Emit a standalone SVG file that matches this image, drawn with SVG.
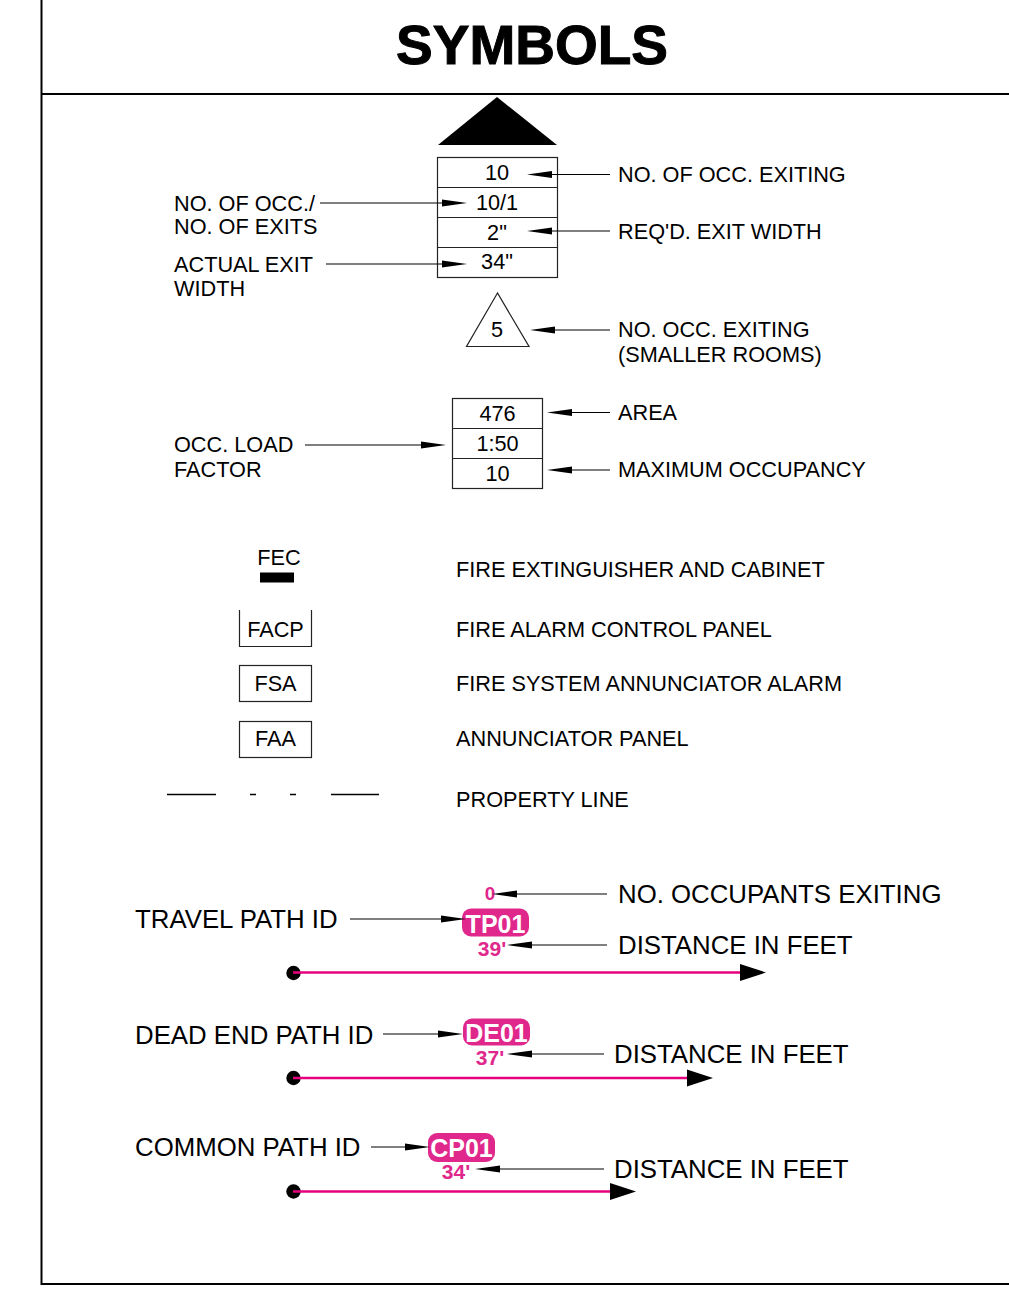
<svg xmlns="http://www.w3.org/2000/svg" width="1009" height="1295" viewBox="0 0 1009 1295">
<defs>
<style>
.t{font-family:"Liberation Sans",Arial,sans-serif;font-size:21.7px;fill:#000}
.c{text-anchor:middle}
.big{font-size:25.8px}
.title{font-family:"Liberation Sans",Arial,sans-serif;font-weight:bold;font-size:55px;text-anchor:middle;fill:#000;stroke:#000;stroke-width:1}
.pk{font-family:"Liberation Sans",Arial,sans-serif;font-weight:bold;fill:#e0288c;text-anchor:middle}
.pt{font-family:"Liberation Sans",Arial,sans-serif;font-weight:bold;font-size:25px;fill:#fff;text-anchor:middle}
.pill{fill:#e0288c}
.box{fill:none;stroke:#222;stroke-width:1.2}
.lead{fill:none;stroke:#000;stroke-width:1.2;marker-end:url(#ah)}
.path{fill:none;stroke:#e6007e;stroke-width:2.5;marker-end:url(#bh)}
.frame{fill:none;stroke:#000;stroke-width:2}
</style>
<marker id="ah" markerUnits="userSpaceOnUse" markerWidth="26" markerHeight="8" refX="0" refY="3.5" orient="auto" overflow="visible"><path d="M0,0 L25,3.5 L0,7 z" fill="#000"/></marker>
<marker id="bh" markerUnits="userSpaceOnUse" markerWidth="27" markerHeight="18" refX="0" refY="8.5" orient="auto" overflow="visible"><path d="M0,0 L26,8.5 L0,17 z" fill="#000"/></marker>
</defs>

<g id="frame">
<path class="frame" d="M41.5,0 V1284 H1009 M41.5,94 H1009"/>
<text class="title" x="532" y="64">SYMBOLS</text>
</g>

<g id="exit-symbol">
<polygon points="438,145 557,145 497,97" fill="#000"/>
<rect class="box" x="437.5" y="157.5" width="120" height="120"/>
<path class="box" d="M437.5,187.5 H557.5 M437.5,217.5 H557.5 M437.5,247.5 H557.5"/>
<text class="t c" x="497" y="180">10</text>
<text class="t c" x="497" y="210">10/1</text>
<text class="t c" x="497" y="240">2"</text>
<text class="t c" x="497" y="269">34"</text>
</g>

<g id="small-room">
<polygon class="box" points="497.5,293 466.5,346.5 529,346.5"/>
<text class="t c" x="497" y="337">5</text>
</g>

<g id="occ-load">
<rect class="box" x="452.5" y="398.5" width="90" height="90"/>
<path class="box" d="M452.5,428.5 H542.5 M452.5,458.5 H542.5"/>
<text class="t c" x="497.5" y="421">476</text>
<text class="t c" x="497.5" y="451">1:50</text>
<text class="t c" x="497.5" y="481">10</text>
</g>

<g id="labels">
<text class="t" x="618" y="181.5">NO. OF OCC. EXITING</text>
<text class="t" x="618" y="238.5">REQ'D. EXIT WIDTH</text>
<text class="t" x="174" y="211">NO. OF OCC./</text>
<text class="t" x="174" y="234">NO. OF EXITS</text>
<text class="t" x="174" y="272">ACTUAL EXIT</text>
<text class="t" x="174" y="296">WIDTH</text>
<text class="t" x="618" y="337">NO. OCC. EXITING</text>
<text class="t" x="618" y="362">(SMALLER ROOMS)</text>
<text class="t" x="618" y="420">AREA</text>
<text class="t" x="618" y="477">MAXIMUM OCCUPANCY</text>
<text class="t" x="174" y="452">OCC. LOAD</text>
<text class="t" x="174" y="477">FACTOR</text>
</g>

<g id="fec">
<text class="t c" x="279" y="565">FEC</text>
<rect x="260" y="572.5" width="34" height="10" fill="#000"/>
<text class="t" x="456" y="577">FIRE EXTINGUISHER AND CABINET</text>
</g>
<g id="facp">
<path class="box" d="M239.5,610 V646.5 H311.5 V610"/>
<text class="t c" x="275.5" y="637">FACP</text>
<text class="t" x="456" y="637">FIRE ALARM CONTROL PANEL</text>
</g>
<g id="fsa">
<rect class="box" x="239.5" y="665.5" width="72" height="36"/>
<text class="t c" x="275.5" y="691">FSA</text>
<text class="t" x="456" y="691">FIRE SYSTEM ANNUNCIATOR ALARM</text>
</g>
<g id="faa">
<rect class="box" x="239.5" y="721.5" width="72" height="36"/>
<text class="t c" x="275.5" y="746">FAA</text>
<text class="t" x="456" y="746">ANNUNCIATOR PANEL</text>
</g>
<g id="property-line">
<path d="M167,794.5 H216 M250,794.5 H256 M290,794.5 H296 M331,794.5 H379" stroke="#000" stroke-width="1.6" fill="none"/>
<text class="t" x="456" y="807">PROPERTY LINE</text>
</g>

<g id="travel-path">
<text class="t big" x="135" y="928">TRAVEL PATH ID</text>
<text class="pk" x="490" y="900" font-size="19">0</text>
<rect class="pill" x="462" y="908.5" width="67" height="28" rx="9"/>
<text class="pt" x="495.5" y="932.5">TP01</text>
<text class="pk" x="492" y="956" font-size="21">39'</text>
<text class="t big" x="618" y="903">NO. OCCUPANTS EXITING</text>
<text class="t big" x="618" y="954">DISTANCE IN FEET</text>
<circle cx="293.5" cy="973" r="7.2" fill="#000"/>
</g>

<g id="dead-end-path">
<text class="t big" x="135" y="1044">DEAD END PATH ID</text>
<rect class="pill" x="463" y="1018.5" width="67" height="27" rx="9"/>
<text class="pt" x="496.5" y="1042">DE01</text>
<text class="pk" x="490" y="1065" font-size="21">37'</text>
<text class="t big" x="614" y="1063">DISTANCE IN FEET</text>
<circle cx="293.5" cy="1078" r="7.2" fill="#000"/>
</g>

<g id="common-path">
<text class="t big" x="135" y="1156">COMMON PATH ID</text>
<rect class="pill" x="428" y="1133" width="67" height="29" rx="9"/>
<text class="pt" x="461.5" y="1157">CP01</text>
<text class="pk" x="456" y="1179" font-size="21">34'</text>
<text class="t big" x="614" y="1178">DISTANCE IN FEET</text>
<circle cx="293.5" cy="1191.5" r="7.2" fill="#000"/>
</g>

<g id="connectors">
<line class="lead" x1="610" y1="174.5" x2="552" y2="174.5"/>
<line class="lead" x1="320" y1="203" x2="442" y2="203"/>
<line class="lead" x1="610" y1="231" x2="552" y2="231"/>
<line class="lead" x1="326" y1="264" x2="442" y2="264"/>
<line class="lead" x1="610" y1="330" x2="555" y2="330"/>
<line class="lead" x1="610" y1="412.5" x2="572" y2="412.5"/>
<line class="lead" x1="305" y1="445" x2="421" y2="445"/>
<line class="lead" x1="610" y1="470" x2="572" y2="470"/>
<line class="lead" x1="607" y1="894" x2="517" y2="894"/>
<line class="lead" x1="350" y1="919" x2="441" y2="919"/>
<line class="lead" x1="607" y1="945" x2="532" y2="945"/>
<line class="lead" x1="383" y1="1034" x2="438" y2="1034"/>
<line class="lead" x1="604" y1="1054" x2="532" y2="1054"/>
<line class="lead" x1="371" y1="1147" x2="405" y2="1147"/>
<line class="lead" x1="604" y1="1169" x2="500" y2="1169"/>
<line class="path" x1="293" y1="972.5" x2="740" y2="972.5"/>
<line class="path" x1="293" y1="1078" x2="687" y2="1078"/>
<line class="path" x1="293" y1="1191.5" x2="610" y2="1191.5"/>
</g>
</svg>
